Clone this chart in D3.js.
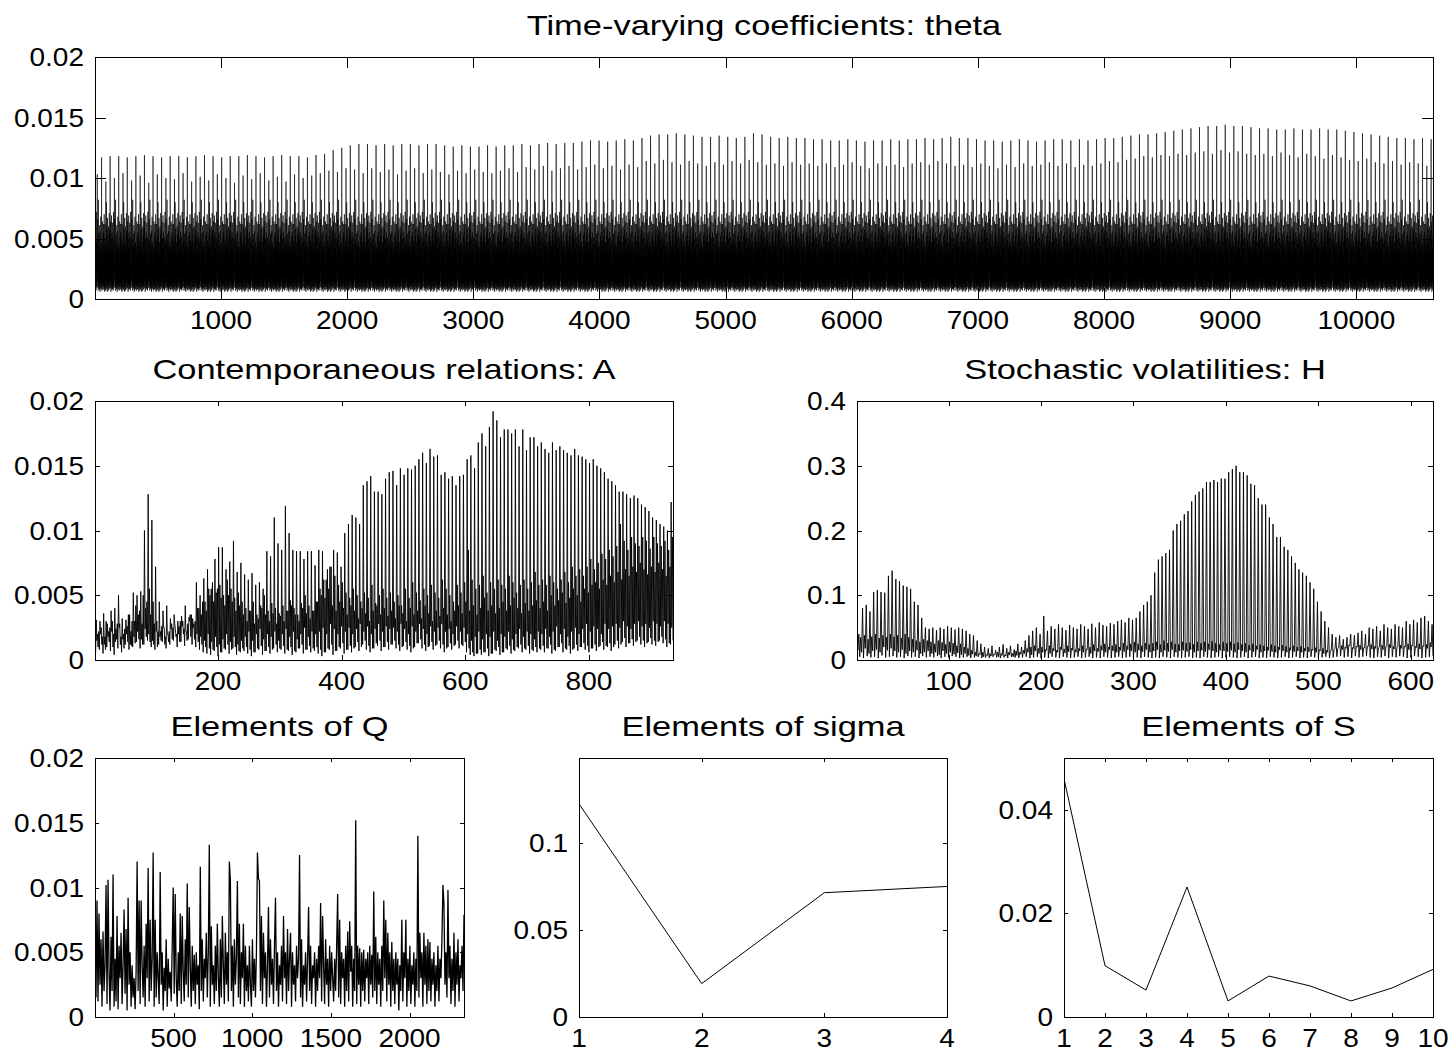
<!DOCTYPE html>
<html>
<head>
<meta charset="utf-8">
<script src="https://cdn.jsdelivr.net/npm/d3@7"></script>
<style>
  body { margin: 0; background: #fff; }
  text { font-family: "Liberation Sans", Arial, Helvetica, sans-serif; fill: #000; }
</style>
</head>
<body>
<div id="chart"></div>
<script>
// ---- data ----
// 156 time steps; series are stacked element by element per time step
const T = 156;

// theta: 68 coefficients per step, values in units of 1e-4
const thetaPeak = [
  117,118,118,117,118,119,118,117,118,118,117,118,119,118,117,118,118,119,118,117,118,119,118,118,117,119,
  120,123,125,127,
  128,128,127,128,127,128,128,127,128,128,
  127,126,127,126,126,127,126,
  127,127,128,127,128,129,128,129,129,130,
  131,131,130,131,132,131,133,
  135,136,136,137,136,
  135,134,134,135,134,133,134,
  137,136,
  134,133,134,133,133,132,
  132,131,131,132,131,130,131,131,132,131,132,132,
  133,132,133,134,133,133,132,
  131,131,130,131,132,131,130,131,132,132,131,132,131,132,
  133,133,134,135,
  136,136,137,138,139,
  140,141,142,
  143,143,144,143,143,142,
  141,141,140,140,141,140,140,141,140,140,139,
  138,137,136,
  135,134,133,133,132,133,132
];
const thetaMid = [
  103,97,100,104,98,102,96,103,100,99,104,97,101,98,103,100,96,102,99,104,98,101,97,103,100,102,
  104,106,105,108,107,104,108,105,107,103,106,108,104,107,105,103,106,104,107,105,104,
  106,108,105,109,107,110,106,108,110,107,109,111,108,110,107,111,109,
  114,112,115,113,111,114,112,110,113,111,114,112,115,113,111,112,110,113,111,112,
  110,112,109,111,113,110,108,112,110,111,109,112,113,111,114,112,110,111,109,112,110,108,111,109,112,110,111,113,110,112,109,111,110,
  112,114,113,115,116,118,117,119,118,120,119,121,122,120,123,121,122,120,119,
  120,118,121,119,117,120,118,116,119,117,115,114,116,113,112,114,111,113,112,110
];
// within-step profile of the remaining coefficients (slots 18 and 52 hold mid and peak)
const thetaProfileA = [
  9,42,12,63,8,27,15,51,7,34,11,72,19,46,9,30,14,
  58,0,38,22,66,10,25,17,49,7,82,13,36,9,54,16,40,
  10,44,8,61,20,31,6,56,12,40,18,68,9,28,14,47,8,
  35,0,59,11,43,7,24,16,64,10,33,13,52,8,39,21,62
];
const thetaProfileB = [
  12,55,8,38,18,70,10,29,6,48,15,62,9,33,20,44,7,
  65,0,26,12,52,8,80,17,35,10,58,21,41,6,67,14,30,
  9,47,19,36,7,60,13,25,11,53,8,71,16,39,10,57,18,
  28,0,45,9,64,14,32,6,50,20,37,12,69,8,42,15,55
];

// A: 6 elements per step, units of 1e-4
const aTop = [
  31,30,36,28,38,40,50,32,31,35, 52,50,53, 100,128,108,72,
  45,38,42,32,35,30,34,42,33,32, 60,50,63,70,55, 78,87,87,70,76, 92,68,75,66,62,
  67,58,60,55,84, 80,110,90,85,119, 98,85,84,84,78,84,84, 73,85,84,62,72,85,83,
  72,98,105,112,110, 105,135,138,142,130, 130,128,140,145,146, 135,148,143,148,147,
  150,155,160,152,163, 157,158,143,145,140, 142,135,142,143,155, 158,148,168,175,165,
  180,192,185,172,178, 178,175,178,165,178, 162,172,172,165,168, 163,160,168,162,165,
  162,160,158,163,158, 157,155,152,155,150, 148,145,140,138,135, 130,130,128,125,127,
  125,120,118,115,110, 108,105,103,100,122
];
const aMid = [
  20,25,18,22,30,24,28,20,26,22, 30,35,28,40,55,45,30,22,25,20,
  28,24,26,30,22,35,28,40,35,45, 55,60,52,58,50,62,55,48,52,45,
  40,38,45,35,42,50,38,44,40,36, 42,38,46,40,35,44,50,42,38,45,
  55,62,70,72,65,58,60,52,48,55, 50,45,52,48,58,44,50,55,48,52,
  45,50,42,55,48,60,52,46,55,50, 58,52,48,62,55,50,45,58,52,60,
  85,62,55,58,65,52,60,55,62,58, 55,65,60,52,58,62,55,60,68,58,
  62,58,65,60,55,62,68,60,72,65, 70,65,72,78,70,75,82,78,85,80,
  88,105,92,85,95,90,88,95,92,86, 95,90,88,92,85,95
];
const aSub = [
  15,22,18,30,25,20,28,18,24,35,30,42,38,50,45,35,28,22,26,18,
  22,25,20,30,24,28,35,30,40,45,38,50,45,55,48,42,50,45,38,42,
  35,30,38,28,32,40,35,30,36,28,34,30,38,42,35,30,40,36,32,38,
  45,50,48,55,42,38,45,40,35,42,38,32,40,36,30,38,42,35,40,34,
  38,32,42,36,30,40,35,38,32,42,36,30,38,34,40,35,30,38,42,36,
  45,38,42,35,40,48,38,42,36,40,45,38,42,48,40,36,44,38,42,46,
  40,45,38,50,42,46,52,44,48,55,50,45,55,52,58,60,55,62,58,65,
  60,68,62,70,65,72,68,75,70,66,72,68,75,70,65,72
];
const aLowA = [
  6,8,5,10,7,4,9,6,12,8,10,14,9,12,15,10,8,12,14,9,
  12,15,10,14,11,16,12,10,8,6,5,4,7,3,6,8,5,9,4,6,
  7,5,3,6,8,4,7,5,9,6,8,5,7,4,6,9,5,8,6,7,
  5,3,6,8,4,7,9,5,8,6,10,7,12,8,6,9,11,7,10,8,
  12,9,7,11,8,6,10,13,9,7,11,8,12,9,6,10,8,12,9,11,
  6,4,3,5,4,6,3,5,7,4,6,8,5,7,9,6,8,5,7,6,
  8,6,9,5,7,10,6,8,5,9,7,10,8,6,9,7,11,8,10,7,
  12,9,14,10,13,11,15,12,10,14,12,11,15,13,10,12
];
const aLowB = [
  15,20,12,18,22,14,25,16,20,12,18,22,16,24,20,15,22,18,25,20,
  24,28,20,26,22,30,25,20,18,15,20,14,18,12,16,20,14,18,12,15,
  18,22,15,20,24,16,20,18,22,15,20,24,18,22,16,20,25,18,22,20,
  22,25,20,28,24,20,26,22,25,20,24,28,22,26,20,24,28,22,26,24,
  25,22,28,24,20,26,22,28,24,20,26,22,25,28,22,24,20,26,22,25,
  20,15,18,22,16,20,18,22,15,20,18,22,16,20,24,18,22,20,16,22,
  20,24,18,22,26,20,24,18,22,25,20,24,28,22,26,24,20,28,24,26,
  28,25,30,26,24,28,30,26,28,25,30,28,26,30,28,25
];
const aLowC = [
  10,12,8,14,10,16,12,9,14,11,13,16,12,18,14,12,10,15,12,14,
  16,18,14,20,15,18,16,14,12,10,9,8,10,6,9,12,8,10,7,9,
  10,8,6,9,11,7,10,8,12,9,11,8,10,7,9,12,8,11,9,10,
  8,6,9,12,7,10,13,8,11,9,14,10,15,11,9,13,15,10,14,12,
  15,12,10,14,11,9,13,16,12,10,14,11,15,12,9,13,11,15,12,14,
  9,6,5,8,6,9,5,8,10,6,9,11,8,10,12,9,11,8,10,9,
  11,9,12,8,10,13,9,11,8,12,10,13,11,9,12,10,14,11,13,10,
  15,12,17,13,16,14,18,15,13,17,15,14,18,16,13,15
];

// H: 4 volatilities per step, units of 1e-3
const hTop = [
  40,80,85,75,105,108,105,104,130,138, 125,122,115,113,110,90,85,65,50,48,
  50,46,50,48,52,50,47,50,48,45, 40,38,30,25,20,18,22,15,20,24,
  18,22,16,25,20,30,38,45,50,40, 68,45,52,48,55,50,46,54,50,48,
  55,52,48,56,50,58,54,52,57,55, 60,62,58,65,62,65,75,85,90,100,
  135,155,160,165,170,200,210,215,225,230, 245,255,260,265,275,275,278,275,280,280,
  290,295,300,290,290,285,272,270,250,240, 240,220,210,190,190,175,170,160,150,140,
  135,130,120,110,90,75,60,50,40,35, 38,32,35,40,38,42,45,40,50,48,
  52,45,55,50,48,55,52,50,60,55, 62,58,65,68,60,55
];
const hMid = [
  30,35,38,32,36,40,34,38,35,40, 36,38,34,40,35,32,30,28,32,30,
  28,25,30,27,24,28,26,22,25,20, 18,15,12,10,12,8,10,9,12,10,
  8,12,10,14,12,15,18,20,22,18, 20,16,22,18,15,20,17,22,18,16,
  18,22,17,20,24,18,22,25,20,22, 24,20,26,22,25,28,25,22,26,24,
  26,28,24,30,26,28,25,24,28,26, 27,24,28,26,28,25,29,26,24,28,
  26,28,25,27,24,26,23,25,22,24, 22,20,24,22,20,23,21,19,22,20,
  21,18,20,17,19,16,18,15,14,16, 18,22,20,23,19,21,23,19,21,24,
  21,19,23,20,24,21,19,23,21,25, 23,21,25,22,24,27
];
const hLow = [
  15,12,18,10,14,16,12,20,15,18,14,12,16,10,14,12,15,10,12,14,
  10,12,8,14,10,12,9,11,8,10,7,9,6,8,5,7,6,8,5,7,
  6,8,5,7,9,10,12,8,14,10,12,15,10,14,12,16,11,13,15,12,
  14,12,16,10,14,13,15,12,16,14,12,15,13,16,14,12,15,13,16,12,
  14,16,12,15,13,16,12,14,15,13,16,12,14,15,13,16,14,12,15,14,
  13,15,12,16,14,12,15,13,16,12,14,15,13,12,16,14,12,15,13,14,
  12,14,13,15,12,14,10,12,15,18,20,16,18,22,18,20,16,19,21,17,
  18,20,16,22,19,17,21,18,20,16,22,19,17,21,18,20
];
const hFloor = [
  5,3,6,4,5,3,7,4,5,6,4,5,3,6,4,5,3,6,4,5,
  4,6,3,5,4,6,5,3,4,5,3,4,5,3,4,3,5,4,3,4,
  3,5,4,3,4,5,3,4,5,3,4,3,5,4,3,5,4,3,4,5,
  3,4,5,3,4,3,5,4,3,4,5,3,4,5,3,4,3,5,4,3,
  4,3,5,4,3,5,4,3,4,5,3,4,3,5,4,3,4,5,3,4,
  5,4,3,4,5,3,4,5,3,4,3,5,4,3,4,5,3,4,5,3,
  4,3,5,4,3,4,5,3,4,5,6,4,5,3,6,4,5,6,4,3,
  5,4,6,3,5,4,6,5,3,4,6,5,3,4,5,6
];

// Q: 2346 elements, read at one value per screen pixel (369 samples), units of 1e-4
const qCount = 2346;
const qValues = [
  82,15,90,12,80,25,60,8,66,20,40,102,10,106,35,5,62,20,110,8,
  45,12,78,6,55,30,65,10,40,83,18,68,5,92,25,50,8,40,15,30,
  6,35,120,20,90,10,90,40,15,55,8,72,30,115,12,75,20,45,127,8,
  75,15,50,30,10,112,25,50,5,38,20,60,8,45,22,35,12,55,100,18,
  95,30,8,50,20,80,10,78,35,12,60,25,103,15,85,40,8,55,20,48,
  10,50,25,40,6,116,20,60,12,45,30,65,15,50,133,8,70,25,40,10,
  55,20,72,30,8,60,15,78,40,10,65,25,50,12,120,105,20,55,8,60,
  25,45,105,15,72,10,50,30,72,8,55,20,40,12,55,25,8,60,20,45,
  15,50,127,107,105,20,78,10,65,30,50,8,40,85,15,60,25,45,10,55,
  92,20,50,8,40,25,55,12,78,30,50,10,68,20,45,65,8,50,25,40,
  12,55,30,45,125,15,60,8,40,25,50,12,45,85,20,55,10,40,30,50,
  8,45,20,55,30,88,12,78,40,10,60,25,45,8,55,20,50,30,12,45,
  20,55,95,15,75,10,50,30,45,8,55,20,66,12,74,35,55,8,45,20,
  152,10,55,25,53,8,50,20,52,12,45,30,50,10,55,25,48,15,97,20,
  62,10,50,25,45,8,55,20,90,30,75,12,65,25,50,8,58,20,45,10,
  50,25,45,5,40,20,75,12,50,30,75,8,45,20,55,10,40,25,50,8,
  45,20,140,15,65,30,50,8,65,25,55,10,60,20,58,12,45,25,50,8,
  40,20,55,12,45,30,60,102,87,25,50,15,98,30,55,10,45,20,65,8,
  50,25,60,12,40,30,55,20,79
];

const sigmaValues = [0.1226, 0.0192, 0.0715, 0.0751];
const sValues = [0.0460, 0.0099, 0.0052, 0.0251, 0.0031, 0.0079, 0.0060, 0.0031, 0.0056, 0.0092];

const titles = [
  "Time-varying coefficients: theta",
  "Contemporaneous relations: A",
  "Stochastic volatilities: H",
  "Elements of Q",
  "Elements of sigma",
  "Elements of S"
];
const smallTicks = [0, 0.005, 0.01, 0.015, 0.02];
const thetaXTicks = [1000, 2000, 3000, 4000, 5000, 6000, 7000, 8000, 9000, 10000];
const aXTicks = [200, 400, 600, 800];
const hXTicks = [100, 200, 300, 400, 500, 600];
const hYTicks = [0, 0.1, 0.2, 0.3, 0.4];
const qXTicks = [500, 1000, 1500, 2000];
const sigmaXTicks = [1, 2, 3, 4];
const sigmaYTicks = [0, 0.05, 0.1];
const sXTicks = [1, 2, 3, 4, 5, 6, 7, 8, 9, 10];
const sYTicks = [0, 0.02, 0.04];

// ---- series assembly: stack the elements of each time step ----
function stackSteps(arrays, unit) {
  const out = [];
  for (let t = 0; t < T; t++) arrays.forEach(a => out.push(a[t] * unit));
  return out.map((v, i) => [i + 1, v]);
}

const theta = [];
for (let t = 0; t < T; t++) {
  const prof = t % 2 ? thetaProfileB : thetaProfileA;
  prof.forEach((v, j) => {
    const val = j === 52 ? thetaPeak[t] : j === 18 ? thetaMid[t] : v;
    theta.push([theta.length + 1, val * 1e-4]);
  });
}
const aSeries = stackSteps([aSub, aLowA, aTop, aLowB, aMid, aLowC], 1e-4);
const hSeries = stackSteps([hMid, hLow, hTop, hFloor], 1e-3);
const qSeries = qValues.map((v, i) => [1 + i * (qCount - 1) / (qValues.length - 1), v * 1e-4]);
const sigmaSeries = sigmaValues.map((v, i) => [i + 1, v]);
const sSeries = sValues.map((v, i) => [i + 1, v]);

// ---- drawing ----
const svg = d3.select("#chart").append("svg")
    .attr("width", 1455)
    .attr("height", 1055);

function label(g, x, y, str, size, sx, anchor) {
  g.append("text")
      .attr("transform", `translate(${x},${y}) scale(${sx},1)`)
      .attr("text-anchor", anchor)
      .attr("font-size", size)
      .text(str);
}

function panel(opt) {
  const { left, top, width, height, tick } = opt;
  const g = svg.append("g").attr("transform", `translate(${left},${top})`);

  const x = d3.scaleLinear().domain(opt.xDomain).range([0, width]);
  const y = d3.scaleLinear().domain(opt.yDomain).range([height, 0]);

  const id = "clip" + opt.key;
  g.append("clipPath").attr("id", id)
    .append("rect").attr("width", width).attr("height", height);

  const line = d3.line()
      .defined(d => !isNaN(d[1]))
      .x(d => x(d[0]))
      .y(d => y(d[1]));

  g.append("path")
      .datum(opt.data)
      .attr("clip-path", `url(#${id})`)
      .attr("fill", "none")
      .attr("stroke", "#000")
      .attr("stroke-width", opt.lw || 1)
      .attr("stroke-linejoin", "miter")
      .attr("d", line);

  // box and inward ticks on all four sides
  const axis = g.append("g").attr("stroke", "#000").attr("stroke-width", 1).attr("shape-rendering", "crispEdges");
  axis.append("rect").attr("x", 0.5).attr("y", 0.5).attr("width", width).attr("height", height).attr("fill", "none");

  opt.xTicks.forEach(v => {
    const px = Math.round(x(v)) + 0.5;
    axis.append("line").attr("x1", px).attr("x2", px).attr("y1", height).attr("y2", height - tick);
    axis.append("line").attr("x1", px).attr("x2", px).attr("y1", 0).attr("y2", tick);
    label(g, x(v), height + 30, String(v), 25, 1.12, "middle");
  });
  opt.yTicks.forEach(v => {
    const py = Math.round(y(v)) + 0.5;
    axis.append("line").attr("x1", 0).attr("x2", tick).attr("y1", py).attr("y2", py);
    axis.append("line").attr("x1", width).attr("x2", width - tick).attr("y1", py).attr("y2", py);
    label(g, -11, y(v) + 9, String(v), 25, 1.12, "end");
  });

  label(g, width / 2, -22, opt.title, 28, 1.23, "middle");
}

panel({ key: 1, left: 95, top: 57, width: 1338, height: 242, tick: 11,
  xDomain: [1, 10608], yDomain: [0, 0.02], xTicks: thetaXTicks, yTicks: smallTicks,
  data: theta, title: titles[0], lw: 0.6 });
panel({ key: 2, left: 95, top: 401, width: 578, height: 259, tick: 5,
  xDomain: [1, 936], yDomain: [0, 0.02], xTicks: aXTicks, yTicks: smallTicks,
  data: aSeries, title: titles[1], lw: 0.9 });
panel({ key: 3, left: 857, top: 401, width: 576, height: 259, tick: 5,
  xDomain: [1, 624], yDomain: [0, 0.4], xTicks: hXTicks, yTicks: hYTicks,
  data: hSeries, title: titles[2], lw: 0.9 });
panel({ key: 4, left: 95, top: 758, width: 369, height: 259, tick: 4,
  xDomain: [1, qCount], yDomain: [0, 0.02], xTicks: qXTicks, yTicks: smallTicks,
  data: qSeries, title: titles[3], lw: 1.3 });
panel({ key: 5, left: 579, top: 758, width: 368, height: 259, tick: 4,
  xDomain: [1, 4], yDomain: [0, 0.149], xTicks: sigmaXTicks, yTicks: sigmaYTicks,
  data: sigmaSeries, title: titles[4] });
panel({ key: 6, left: 1064, top: 758, width: 369, height: 259, tick: 4,
  xDomain: [1, 10], yDomain: [0, 0.05], xTicks: sXTicks, yTicks: sYTicks,
  data: sSeries, title: titles[5] });
</script>
</body>
</html>
